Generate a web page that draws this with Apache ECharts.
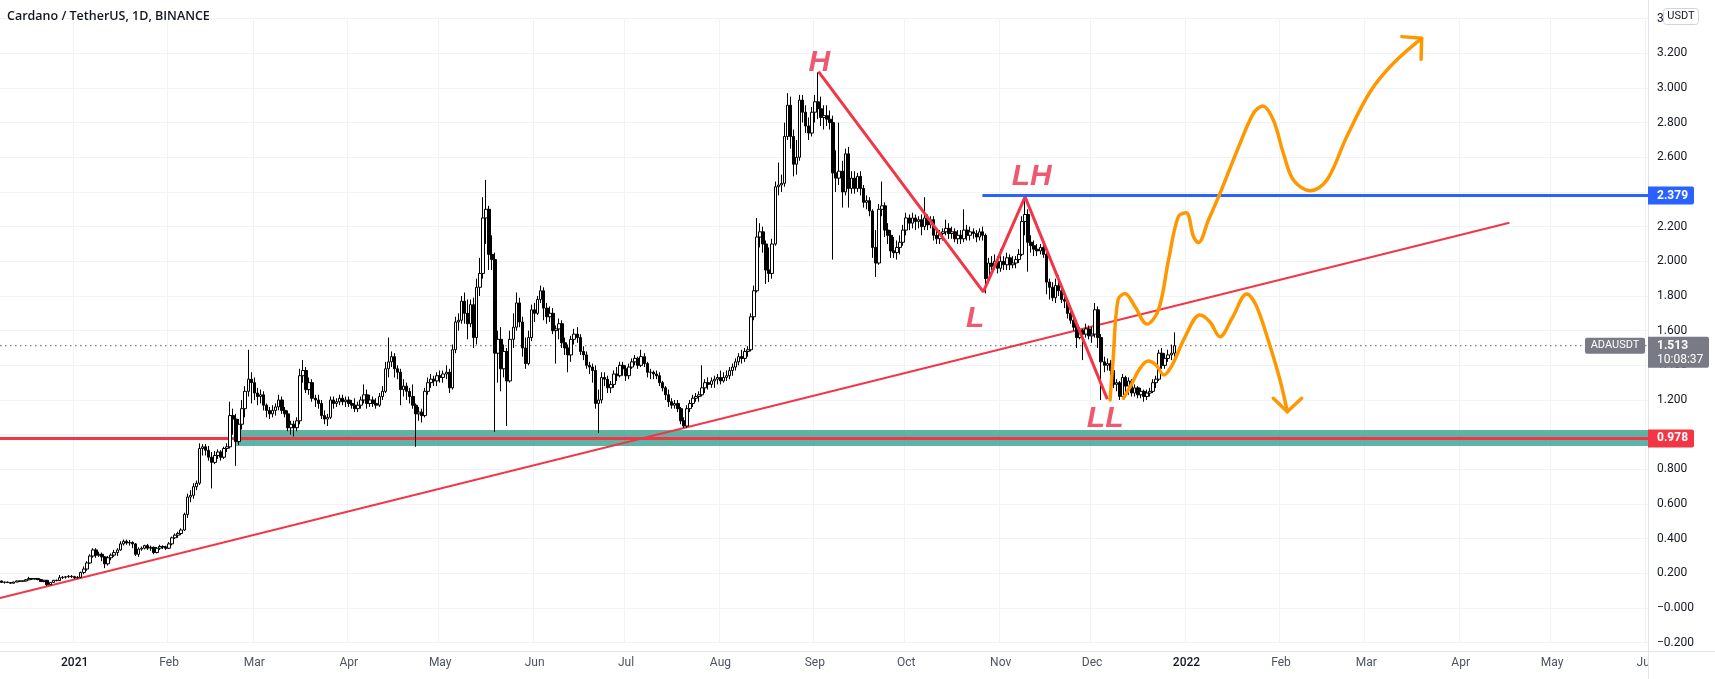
<!DOCTYPE html>
<html>
<head>
<meta charset="utf-8">
<title>ADAUSDT</title>
<script src="https://cdn.jsdelivr.net/npm/echarts@6/dist/echarts.min.js"></script>
<style>
  html, body { margin: 0; padding: 0; background: #fff; }
  #chart { width: 1715px; height: 679px; }
</style>
</head>
<body>
<div id="chart"></div>
<script>
// daily candles [open, close, low, high]
const dec20 = [
  [0.156,0.148,0.145,0.158],[0.148,0.150,0.141,0.152],[0.150,0.147,0.144,0.152],[0.147,0.143,0.139,0.149],
  [0.143,0.150,0.142,0.152],[0.150,0.156,0.149,0.158],[0.156,0.155,0.152,0.158],[0.155,0.156,0.152,0.159],
  [0.156,0.163,0.153,0.167],[0.163,0.170,0.160,0.180],[0.170,0.167,0.162,0.172],[0.167,0.170,0.164,0.173],
  [0.170,0.164,0.160,0.172],[0.164,0.153,0.150,0.168],[0.153,0.160,0.148,0.162],[0.160,0.135,0.128,0.162],
  [0.135,0.148,0.132,0.150],[0.148,0.160,0.146,0.162],[0.160,0.158,0.154,0.164],[0.158,0.175,0.156,0.190],
  [0.175,0.178,0.168,0.185],[0.178,0.180,0.170,0.185],[0.180,0.183,0.175,0.190],[0.183,0.181,0.174,0.190]
];
const jan21 = [
  [0.181,0.175,0.168,0.186],[0.175,0.177,0.171,0.184],[0.177,0.205,0.175,0.210],[0.205,0.225,0.195,0.240],
  [0.225,0.260,0.215,0.270],[0.260,0.300,0.255,0.310],[0.300,0.335,0.290,0.345],[0.335,0.305,0.290,0.345],
  [0.305,0.310,0.295,0.325],[0.310,0.295,0.270,0.320],[0.295,0.255,0.230,0.300],[0.255,0.290,0.245,0.300],
  [0.290,0.305,0.275,0.315],[0.305,0.320,0.295,0.335],[0.320,0.335,0.300,0.345],[0.335,0.370,0.330,0.385],
  [0.370,0.385,0.360,0.395],[0.385,0.375,0.365,0.395],[0.375,0.378,0.360,0.392],[0.378,0.370,0.345,0.385],
  [0.370,0.310,0.300,0.375],[0.310,0.340,0.295,0.350],[0.340,0.345,0.330,0.355],[0.345,0.360,0.338,0.365],
  [0.360,0.345,0.335,0.370],[0.345,0.350,0.330,0.360],[0.350,0.320,0.310,0.355],[0.320,0.345,0.315,0.352],
  [0.345,0.355,0.335,0.365],[0.355,0.352,0.340,0.362],[0.352,0.345,0.335,0.360]
];
const feb21 = [
  [0.345,0.370,0.340,0.380],[0.370,0.405,0.362,0.412],[0.405,0.420,0.398,0.430],[0.420,0.430,0.405,0.440],
  [0.430,0.450,0.420,0.460],[0.450,0.540,0.445,0.550],[0.540,0.640,0.520,0.660],[0.640,0.650,0.610,0.680],
  [0.650,0.700,0.630,0.720],[0.700,0.720,0.680,0.735],[0.720,0.920,0.710,0.950],[0.920,0.930,0.880,0.945],
  [0.930,0.910,0.880,0.945],[0.910,0.870,0.850,0.935],[0.870,0.840,0.690,0.900],[0.840,0.880,0.830,0.905],
  [0.880,0.900,0.860,0.915],[0.900,0.870,0.850,0.910],[0.870,0.920,0.860,0.930],[0.920,0.930,0.900,0.950],
  [0.930,1.110,0.920,1.190],[1.110,1.090,1.000,1.150],[1.090,0.960,0.820,1.120],[0.960,1.060,0.940,1.090],
  [1.060,1.150,1.030,1.200],[1.150,1.250,1.100,1.280],[1.250,1.320,1.220,1.490],[1.320,1.300,1.180,1.360]
];
const mar21 = [
  [1.300,1.240,1.200,1.330],[1.240,1.220,1.170,1.270],[1.220,1.230,1.180,1.260],[1.230,1.170,1.140,1.250],
  [1.170,1.140,1.100,1.180],[1.140,1.120,1.090,1.160],[1.120,1.140,1.100,1.170],[1.140,1.160,1.110,1.180],
  [1.160,1.200,1.140,1.230],[1.200,1.140,1.120,1.220],[1.140,1.120,1.100,1.160],[1.120,1.040,1.020,1.140],
  [1.040,1.060,1.000,1.080],[1.060,1.040,0.990,1.080],[1.040,1.080,1.020,1.100],[1.080,1.340,1.060,1.380],
  [1.340,1.370,1.300,1.430],[1.370,1.260,1.240,1.390],[1.260,1.300,1.230,1.330],[1.300,1.210,1.190,1.320],
  [1.210,1.200,1.160,1.230],[1.200,1.180,1.150,1.230],[1.180,1.110,1.090,1.200],[1.110,1.090,1.060,1.140],
  [1.090,1.100,1.050,1.120],[1.100,1.200,1.090,1.220],[1.200,1.180,1.150,1.220],[1.180,1.190,1.160,1.210],
  [1.190,1.210,1.170,1.230],[1.210,1.190,1.170,1.230],[1.190,1.200,1.160,1.220]
];
const apr21 = [
  [1.200,1.180,1.160,1.220],[1.180,1.170,1.150,1.200],[1.170,1.150,1.130,1.210],[1.150,1.170,1.130,1.190],
  [1.170,1.200,1.150,1.220],[1.200,1.230,1.180,1.290],[1.230,1.180,1.150,1.260],[1.180,1.200,1.160,1.230],
  [1.200,1.180,1.160,1.220],[1.180,1.170,1.150,1.210],[1.170,1.220,1.160,1.240],[1.220,1.250,1.200,1.280],
  [1.250,1.380,1.240,1.420],[1.380,1.420,1.330,1.560],[1.420,1.450,1.390,1.480],[1.450,1.380,1.330,1.470],
  [1.380,1.360,1.320,1.400],[1.360,1.260,1.170,1.380],[1.260,1.280,1.220,1.320],[1.280,1.250,1.200,1.300],
  [1.250,1.220,1.180,1.270],[1.220,1.170,1.150,1.290],[1.170,1.120,0.930,1.180],[1.120,1.130,1.080,1.160],
  [1.130,1.110,1.070,1.150],[1.110,1.250,1.100,1.270],[1.250,1.300,1.230,1.330],[1.300,1.320,1.270,1.350],
  [1.320,1.310,1.280,1.340],[1.310,1.340,1.280,1.360]
];
const may21 = [
  [1.340,1.330,1.300,1.370],[1.330,1.350,1.300,1.370],[1.350,1.360,1.320,1.400],[1.360,1.270,1.240,1.380],
  [1.270,1.490,1.260,1.520],[1.490,1.650,1.470,1.680],[1.650,1.660,1.600,1.700],[1.660,1.770,1.640,1.800],
  [1.770,1.700,1.640,1.820],[1.700,1.640,1.550,1.780],[1.640,1.750,1.620,1.780],[1.750,1.560,1.500,1.790],
  [1.560,1.850,1.520,1.900],[1.850,1.930,1.800,2.020],[1.930,2.250,1.900,2.370],[2.250,2.300,2.100,2.470],
  [2.300,2.040,1.950,2.320],[2.040,2.010,1.950,2.150],[2.010,1.470,1.015,2.050],[1.470,1.550,1.300,1.600],
  [1.550,1.380,1.250,1.620],[1.380,1.480,1.330,1.520],[1.480,1.310,1.050,1.500],[1.310,1.550,1.300,1.600],
  [1.550,1.620,1.500,1.700],[1.620,1.760,1.600,1.820],[1.760,1.650,1.620,1.790],[1.650,1.500,1.450,1.680],
  [1.500,1.410,1.380,1.560],[1.410,1.560,1.400,1.600],[1.560,1.720,1.540,1.750]
];
const jun21 = [
  [1.720,1.700,1.650,1.760],[1.700,1.780,1.690,1.800],[1.780,1.830,1.760,1.860],[1.830,1.730,1.660,1.850],
  [1.730,1.680,1.640,1.760],[1.680,1.700,1.650,1.740],[1.700,1.600,1.580,1.730],[1.600,1.610,1.410,1.630],
  [1.610,1.640,1.550,1.670],[1.640,1.530,1.500,1.660],[1.530,1.500,1.460,1.560],[1.500,1.460,1.360,1.520],
  [1.460,1.550,1.420,1.570],[1.550,1.580,1.520,1.610],[1.580,1.560,1.530,1.620],[1.560,1.480,1.460,1.580],
  [1.480,1.460,1.430,1.510],[1.460,1.400,1.380,1.480],[1.400,1.390,1.350,1.420],[1.390,1.370,1.300,1.410],
  [1.370,1.180,1.150,1.400],[1.180,1.200,1.010,1.260],[1.200,1.330,1.180,1.360],[1.330,1.320,1.280,1.360],
  [1.320,1.270,1.240,1.340],[1.270,1.290,1.240,1.310],[1.290,1.350,1.270,1.370],[1.350,1.340,1.310,1.390],
  [1.340,1.400,1.330,1.420],[1.400,1.380,1.340,1.420]
];
const jul21 = [
  [1.380,1.340,1.310,1.400],[1.340,1.390,1.320,1.410],[1.390,1.420,1.380,1.440],[1.420,1.440,1.400,1.460],
  [1.440,1.400,1.380,1.450],[1.400,1.450,1.390,1.490],[1.450,1.410,1.390,1.470],[1.410,1.360,1.330,1.420],
  [1.360,1.360,1.320,1.380],[1.360,1.350,1.320,1.370],[1.350,1.340,1.320,1.370],[1.340,1.300,1.280,1.360],
  [1.300,1.270,1.250,1.310],[1.270,1.230,1.200,1.280],[1.230,1.190,1.160,1.260],[1.190,1.170,1.150,1.210],
  [1.170,1.180,1.150,1.200],[1.180,1.150,1.130,1.200],[1.150,1.080,1.060,1.160],[1.080,1.050,1.040,1.100],
  [1.050,1.150,1.040,1.170],[1.150,1.180,1.130,1.200],[1.180,1.210,1.160,1.230],[1.210,1.220,1.190,1.240],
  [1.220,1.230,1.190,1.250],[1.230,1.270,1.220,1.400],[1.270,1.300,1.240,1.320],[1.300,1.290,1.260,1.330],
  [1.290,1.310,1.270,1.330],[1.310,1.320,1.270,1.340],[1.320,1.330,1.290,1.350]
];
const aug21 = [
  [1.330,1.310,1.290,1.370],[1.310,1.330,1.300,1.360],[1.330,1.340,1.310,1.370],[1.340,1.370,1.320,1.390],
  [1.370,1.390,1.340,1.410],[1.390,1.420,1.370,1.440],[1.420,1.450,1.400,1.470],[1.450,1.440,1.410,1.490],
  [1.440,1.480,1.420,1.500],[1.480,1.490,1.450,1.510],[1.490,1.680,1.480,1.700],[1.680,1.830,1.660,1.860],
  [1.830,2.140,1.820,2.250],[2.140,2.170,2.080,2.220],[2.170,2.100,2.050,2.200],[2.100,1.950,1.870,2.120],
  [1.950,1.930,1.880,2.080],[1.930,2.100,1.900,2.130],[2.100,2.430,2.090,2.460],[2.430,2.440,2.380,2.570],
  [2.440,2.450,2.400,2.500],[2.450,2.720,2.430,2.800],[2.720,2.900,2.700,2.970],[2.900,2.720,2.650,2.950],
  [2.720,2.560,2.490,2.760],[2.560,2.600,2.500,2.700],[2.600,2.930,2.580,2.960],[2.930,2.860,2.800,2.960],
  [2.860,2.780,2.740,2.900],[2.780,2.740,2.700,2.830],[2.740,2.860,2.720,2.890]
];
const sep21 = [
  [2.860,2.920,2.800,2.960],[2.920,2.880,2.820,3.090],[2.880,2.830,2.780,2.950],[2.830,2.840,2.760,2.900],
  [2.840,2.820,2.780,2.900],[2.820,2.800,2.760,2.870],[2.800,2.510,2.010,2.840],[2.510,2.480,2.400,2.640],
  [2.480,2.520,2.440,2.800],[2.520,2.400,2.310,2.580],[2.400,2.620,2.380,2.650],[2.620,2.420,2.310,2.660],
  [2.420,2.480,2.390,2.520],[2.480,2.420,2.390,2.520],[2.420,2.490,2.400,2.510],[2.490,2.420,2.380,2.520],
  [2.420,2.340,2.310,2.440],[2.340,2.350,2.300,2.380],[2.350,2.290,2.260,2.370],[2.290,2.080,2.020,2.300],
  [2.080,1.990,1.910,2.180],[1.990,2.300,1.980,2.330],[2.300,2.320,2.260,2.460],[2.320,2.180,2.140,2.340],
  [2.180,2.150,2.100,2.220],[2.150,2.060,2.020,2.180],[2.060,2.050,2.020,2.140],[2.050,2.080,2.010,2.120],
  [2.080,2.110,2.040,2.150],[2.110,2.180,2.090,2.210]
];
const oct21 = [
  [2.180,2.250,2.150,2.280],[2.250,2.220,2.180,2.270],[2.220,2.250,2.190,2.280],[2.250,2.230,2.180,2.270],
  [2.230,2.240,2.190,2.260],[2.240,2.200,2.150,2.270],[2.200,2.250,2.180,2.370],[2.250,2.210,2.180,2.270],
  [2.210,2.240,2.190,2.260],[2.240,2.150,2.120,2.260],[2.150,2.130,2.100,2.190],[2.130,2.160,2.100,2.180],
  [2.160,2.170,2.120,2.190],[2.170,2.190,2.150,2.240],[2.190,2.160,2.130,2.220],[2.160,2.170,2.130,2.200],
  [2.170,2.130,2.110,2.190],[2.130,2.150,2.100,2.180],[2.150,2.130,2.100,2.180],[2.130,2.180,2.110,2.300],
  [2.180,2.150,2.120,2.210],[2.150,2.170,2.120,2.200],[2.170,2.160,2.130,2.190],[2.160,2.140,2.110,2.180],
  [2.140,2.170,2.120,2.190],[2.170,2.150,2.120,2.200],[2.150,1.900,1.815,2.160],[1.900,1.990,1.880,2.020],
  [1.990,1.970,1.940,2.030],[1.970,2.000,1.950,2.040],[2.000,1.960,1.930,2.030]
];
const nov21 = [
  [1.960,2.000,1.940,2.070],[2.000,1.980,1.950,2.030],[1.980,2.020,1.950,2.050],[2.020,1.980,1.950,2.040],
  [1.980,1.990,1.960,2.030],[1.990,2.010,1.960,2.030],[2.010,2.040,1.990,2.070],[2.040,2.230,2.030,2.260],
  [2.230,2.270,2.150,2.370],[2.270,2.110,1.940,2.300],[2.110,2.090,2.050,2.150],[2.090,2.070,2.030,2.120],
  [2.070,2.060,2.030,2.100],[2.060,2.080,2.040,2.100],[2.080,2.040,2.020,2.110],[2.040,1.880,1.810,2.050],
  [1.880,1.850,1.780,1.900],[1.850,1.790,1.770,1.880],[1.790,1.860,1.760,1.900],[1.860,1.830,1.800,1.920],
  [1.830,1.780,1.760,1.850],[1.780,1.770,1.730,1.800],[1.770,1.700,1.670,1.780],[1.700,1.660,1.640,1.740],
  [1.660,1.620,1.600,1.700],[1.620,1.560,1.500,1.660],[1.560,1.600,1.550,1.620],[1.600,1.580,1.430,1.610],
  [1.580,1.610,1.560,1.640],[1.610,1.570,1.550,1.630]
];
const dec21 = [
  [1.570,1.580,1.530,1.620],[1.580,1.720,1.560,1.760],[1.720,1.560,1.500,1.740],[1.560,1.420,1.200,1.580],
  [1.420,1.400,1.360,1.450],[1.400,1.410,1.370,1.440],[1.410,1.370,1.340,1.430],[1.370,1.290,1.270,1.400],
  [1.290,1.300,1.250,1.320],[1.300,1.220,1.200,1.310],[1.220,1.330,1.210,1.350],[1.330,1.280,1.240,1.340],
  [1.280,1.310,1.230,1.330],[1.310,1.240,1.220,1.320],[1.240,1.270,1.220,1.290],[1.270,1.230,1.210,1.280],
  [1.230,1.250,1.210,1.270],[1.250,1.220,1.190,1.260],[1.220,1.240,1.200,1.260],[1.240,1.250,1.220,1.270],
  [1.250,1.300,1.240,1.320],[1.300,1.320,1.270,1.340],[1.320,1.470,1.310,1.490],[1.470,1.400,1.380,1.500],
  [1.400,1.440,1.380,1.470],[1.440,1.460,1.420,1.490],[1.460,1.470,1.430,1.520],[1.470,1.513,1.450,1.590]
];
const candles = [].concat(dec20, jan21, feb21, mar21, apr21, may21, jun21, jul21, aug21, sep21, oct21, nov21, dec21);

// time axis: one category per day, Dec 8 2020 .. Jun 1 2022
const firstDay = Date.UTC(2020, 11, 8);
const dayCount = 541;
const dates = [];
for (let i = 0; i < dayCount; i++) {
  dates.push(new Date(firstDay + i * 86400000).toISOString().slice(0, 10));
}
const monthNames = ['Jan', 'Feb', 'Mar', 'Apr', 'May', 'Jun', 'Jul', 'Aug', 'Sep', 'Oct', 'Nov', 'Dec'];

// price levels
const resistance = 2.379;
const support = 0.978;
const lastPrice = 1.513;
const zoneTop = 1.027, zoneBottom = 0.935, zoneStart = 77;
const blueStart = 322;
// price labels that sit under the scale badges
const coveredTicks = ['1.000', '2.400'];

// drawings in [day index, price]
const trendLine = [[-0.5, 0.058], [495, 2.222]];
const hlPath = [[268.2, 3.094], [322.3, 1.824], [336.0, 2.372], [363.0, 1.205]];
const pathUp = [
  [363.9, 1.200], [364.9, 1.431], [366.5, 1.777], [368.8, 1.815], [372.1, 1.738], [376.0, 1.638],
  [379.8, 1.719], [383.1, 2.008], [386.3, 2.257], [388.9, 2.280], [391.3, 2.142], [392.9, 2.107],
  [396.2, 2.238], [400.0, 2.392], [406.6, 2.681], [411.0, 2.854], [414.0, 2.896], [417.5, 2.815],
  [420.8, 2.623], [424.1, 2.469], [429.6, 2.407], [435.1, 2.469], [441.6, 2.719], [449.3, 2.978],
  [456.9, 3.142], [466.2, 3.286]
];
const arrowUp = [[459.7, 3.296], [466.2, 3.286], [466.0, 3.165]];
const pathDown = [
  [368.3, 1.210], [370.8, 1.286], [373.8, 1.384], [376.4, 1.425], [379.0, 1.402], [381.6, 1.344],
  [384.3, 1.402], [388.5, 1.563], [393.4, 1.690], [396.7, 1.650], [400.0, 1.565], [404.0, 1.673],
  [408.8, 1.811], [411.8, 1.748], [415.8, 1.546], [419.7, 1.315], [422.1, 1.132]
];
const arrowDown = [[417.5, 1.210], [422.1, 1.132], [426.8, 1.210]];
const swingLabels = [[268.5, 3.146, 'H'], [319.6, 1.671, 'L'], [338.2, 2.485, 'LH'], [362.3, 1.094, 'LL']];

const RED = '#f23645';
const ORANGE = '#ff9800';
const GRID = '#f0f3fa';

const chart = echarts.init(document.getElementById('chart'));

function priceLabel(v) {
  if (Math.abs(v) < 1e-9) return '\u22120.000';
  const s = Math.abs(v).toFixed(3);
  if (coveredTicks.indexOf(s) >= 0) return '';
  if (s === '3.400') return '3';
  return v < 0 ? '\u2212' + s : s;
}

function flatLine(y, x0, x1) {
  return [[x0, y], [x1, y]];
}

const option = {
  backgroundColor: '#ffffff',
  animation: false,
  grid: { left: 0, right: 67, top: 18.6, bottom: 36.3 },
  xAxis: [
    {
      type: 'category',
      data: dates,
      boundaryGap: true,
      offset: 8,
      axisLine: { show: false },
      axisTick: { show: false },
      axisLabel: {
        interval: (i, v) => v.slice(8) === '01',
        margin: 6,
        color: '#4c525e',
        fontFamily: 'Roboto',
        fontSize: 12,
        formatter: v => {
          const m = +v.slice(5, 7);
          return m === 1 ? '{y|' + v.slice(0, 4) + '}' : monthNames[m - 1];
        },
        rich: { y: { color: '#131722', fontFamily: 'Roboto', fontSize: 12, fontWeight: 500 } }
      },
      splitLine: {
        show: true,
        interval: (i, v) => v.slice(8) === '01',
        lineStyle: { color: GRID, width: 1 }
      }
    },
    { type: 'value', min: -0.5, max: dayCount - 0.5, show: false }
  ],
  yAxis: {
    type: 'value',
    position: 'right',
    min: -0.2,
    max: 3.4,
    interval: 0.2,
    axisLine: { show: false },
    axisTick: { show: false },
    axisLabel: {
      margin: 9,
      color: '#131722',
      fontFamily: 'Roboto',
      fontSize: 12,
      formatter: priceLabel
    },
    splitLine: { lineStyle: { color: GRID, width: 1 } }
  },
  series: [
    {
      name: 'trend', type: 'line', xAxisIndex: 1, z: 2,
      data: trendLine, symbol: 'none',
      lineStyle: { color: RED, width: 2 }
    },
    {
      name: 'zone', type: 'line', xAxisIndex: 1, z: 3, data: [], symbol: 'none',
      markArea: {
        silent: true,
        itemStyle: { color: 'rgba(34,150,130,0.72)' },
        data: [[{ coord: [zoneStart, zoneTop] }, { coord: [dayCount - 0.5, zoneBottom] }]]
      }
    },
    {
      name: 'support', type: 'line', xAxisIndex: 1, z: 4,
      data: flatLine(support, -0.5, dayCount - 0.5), symbol: 'none',
      lineStyle: { color: RED, width: 3 }
    },
    {
      name: 'last', type: 'line', xAxisIndex: 1, z: 4,
      data: flatLine(lastPrice, -0.5, dayCount - 0.5), symbol: 'none',
      lineStyle: { color: '#5d606b', width: 1, type: [1.5, 3.5] }
    },
    {
      name: 'ADAUSDT', type: 'candlestick', xAxisIndex: 0, z: 5,
      data: candles,
      barWidth: 3,
      itemStyle: {
        color: '#ffffff', color0: '#000000',
        borderColor: '#000000', borderColor0: '#000000',
        borderWidth: 1
      }
    },
    {
      name: 'swings', type: 'line', xAxisIndex: 1, z: 6,
      data: hlPath, symbol: 'none',
      lineStyle: { color: RED, width: 3 }
    },
    {
      name: 'resistance', type: 'line', xAxisIndex: 1, z: 6,
      data: flatLine(resistance, blueStart, dayCount - 0.5), symbol: 'none',
      lineStyle: { color: '#2962ff', width: 3 }
    },
    {
      name: 'pathUp', type: 'line', xAxisIndex: 1, z: 7,
      data: pathUp, symbol: 'none', smooth: 0.35,
      lineStyle: { color: ORANGE, width: 3.5, cap: 'round', join: 'round' }
    },
    {
      name: 'arrowUp', type: 'line', xAxisIndex: 1, z: 7,
      data: arrowUp, symbol: 'none',
      lineStyle: { color: ORANGE, width: 3.5, cap: 'round', join: 'round' }
    },
    {
      name: 'pathDown', type: 'line', xAxisIndex: 1, z: 7,
      data: pathDown, symbol: 'none', smooth: 0.35,
      lineStyle: { color: ORANGE, width: 3.5, cap: 'round', join: 'round' }
    },
    {
      name: 'arrowDown', type: 'line', xAxisIndex: 1, z: 7,
      data: arrowDown, symbol: 'none',
      lineStyle: { color: ORANGE, width: 3.5, cap: 'round', join: 'round' }
    },
    {
      name: 'labels', type: 'scatter', xAxisIndex: 1, z: 8,
      data: swingLabels, symbolSize: 0,
      label: {
        show: true, position: 'inside',
        formatter: p => p.data[2],
        color: '#ea2f4c', fontSize: 30, fontStyle: 'italic', fontWeight: 'bold',
        fontFamily: 'Liberation Sans'
      }
    }
  ]
};

chart.setOption(option);

// price scale badges and frame, on a layer above the axis labels
const yOf = v => chart.convertToPixel({ yAxisIndex: 0 }, v);
const yR = yOf(resistance), yS = yOf(support), yL = yOf(lastPrice);
const TOP = { zlevel: 1, z: 100 };

function rect(x, y, w, h, style, r) {
  return Object.assign({ type: 'rect', shape: { x: x, y: y, width: w, height: h, r: r || 0 }, style: style }, TOP);
}
function text(x, y, str, font, fill, align) {
  return Object.assign({ type: 'text', x: x, y: y, style: { text: str, fill: fill, font: font, textAlign: align || 'left', textVerticalAlign: 'middle' } }, TOP);
}
function badge(y, color, txt) {
  return [
    rect(1648, y - 9, 46, 18, { fill: color }, [0, 2, 2, 0]),
    text(1657, y, txt, 'bold 12px Roboto', '#fff')
  ];
}

chart.setOption({
  graphic: [].concat(
    [
      rect(1649, 652, 66, 27, { fill: '#fff' }),
      Object.assign({ type: 'line', shape: { x1: 1648.5, y1: 0, x2: 1648.5, y2: 679 }, style: { stroke: '#e0e3eb', lineWidth: 1 } }, TOP),
      Object.assign({ type: 'line', shape: { x1: 0, y1: 651.5, x2: 1715, y2: 651.5 }, style: { stroke: '#e0e3eb', lineWidth: 1 } }, TOP),
      text(7, 16, 'Cardano / TetherUS, 1D, BINANCE', '600 12.5px "Open Sans"', '#131722'),
      rect(1663.5, 8.5, 35, 16, { fill: '#fff', stroke: '#d1d4dc', lineWidth: 1 }, 3),
      text(1681, 16.5, 'USDT', '11px Roboto', '#131722', 'center')
    ],
    badge(yR, '#2962ff', resistance.toFixed(3)),
    badge(yS, RED, support.toFixed(3)),
    [
      rect(1585, yL - 8, 60, 16, { fill: '#787b86' }, 2),
      text(1615, yL, 'ADAUSDT', '11px Roboto', '#fff', 'center'),
      rect(1648, yL - 9, 61, 31, { fill: '#787b86' }, [0, 2, 2, 0]),
      text(1657, yL, lastPrice.toFixed(3), 'bold 12px Roboto', '#fff'),
      text(1657, yL + 14, '10:08:37', '12px Roboto', '#fff')
    ]
  )
});
</script>
</body>
</html>
